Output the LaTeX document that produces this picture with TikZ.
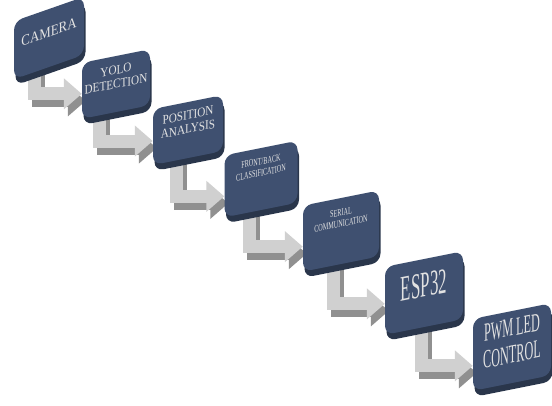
\documentclass[tikz,border=0pt]{standalone}
\usepackage{fontspec}
\setmainfont{Liberation Serif}
\newfontfamily\widefont[FakeStretch=0.86]{Liberation Serif}
\newfontfamily\narrowfont[FakeStretch=0.62]{Liberation Serif}
\newfontfamily\thinfont[FakeStretch=0.47]{Liberation Serif}
\usepackage{xcolor}
\usepackage{tikz}
\usetikzlibrary{
  arrows.meta, positioning, backgrounds, shadows
}
\definecolor{boxface}{HTML}{3F5070}
\definecolor{boxside}{HTML}{2A364B}
\definecolor{boxtext}{HTML}{E2E2E2}
\definecolor{arrowface}{HTML}{D0D0D0}
\definecolor{arrowside}{HTML}{909090}
\tikzset{
  stagebox/.style={
    draw=none, fill=boxface, rounded corners=9pt, align=center,
    text=boxtext, inner sep=2pt, yslant=0.2,
    drop shadow={shadow xshift=1.5pt, shadow yshift=-6pt,
      fill=boxside, opacity=1}
  },
  bendarrow/.style={
    line width=13pt, draw=arrowface,
    -{Triangle[length=18pt, width=30pt]}
  },
  bendshade/.style={
    bendarrow, draw=arrowside,
    transform canvas={shift={(4pt,-7pt)}}
  },
}

\begin{document}
\begin{tikzpicture}[x=1pt, y=-1pt]
  \useasboundingbox (0,0) rectangle (552,405);

  % Stages
  \node[stagebox, minimum width=70pt, minimum height=58pt, yslant=0.15,
    text depth=12pt, font=\widefont\fontsize{15pt}{16pt}\selectfont]
    (cam) at (49,38) {CAMERA};
  \node[stagebox, minimum width=68pt, minimum height=56pt,
    text depth=14pt, font=\widefont\fontsize{13pt}{14pt}\selectfont]
    (yolo) at (116,84) {YOLO\\DETECTION};
  \node[stagebox, minimum width=70pt, minimum height=56pt,
    text depth=16pt, font=\widefont\fontsize{13pt}{14pt}\selectfont]
    (pos) at (188,130) {POSITION\\ANALYSIS};
  \node[stagebox, minimum width=73pt, minimum height=62pt,
    text depth=24pt, font=\narrowfont\fontsize{10pt}{11.5pt}\selectfont]
    (fb) at (261,179) {FRONT/BACK\\CLASSIFICATION};
  \node[stagebox, minimum width=76pt, minimum height=66pt,
    text depth=26pt, font=\narrowfont\fontsize{10pt}{11.5pt}\selectfont]
    (ser) at (341,231) {SERIAL\\COMMUNICATION};
  \node[stagebox, minimum width=78pt, minimum height=68pt,
    text depth=16pt, font=\thinfont\fontsize{36pt}{37pt}\selectfont]
    (esp) at (424,293) {ESP32};
  \node[stagebox, minimum width=78pt, minimum height=72pt,
    text depth=12pt, font=\thinfont\fontsize{26pt}{27pt}\selectfont]
    (pwm) at (512,347) {PWM LED\\CONTROL};

  % Bent connectors
  \begin{scope}[on background layer]
    \foreach \from/\to/\dx/\dy in {cam/yolo/-15/-3, yolo/pos/-17/-4,
        pos/fb/-12/-10, fb/ser/-12/-8, ser/esp/-8/-3, esp/pwm/-3/-11} {
      \draw[bendshade] ([xshift=\dx pt]\from.center) |- ([yshift=\dy pt]\to.west);
      \draw[bendarrow] ([xshift=\dx pt]\from.center) |- ([yshift=\dy pt]\to.west);
    }
  \end{scope}
\end{tikzpicture}
\end{document}
